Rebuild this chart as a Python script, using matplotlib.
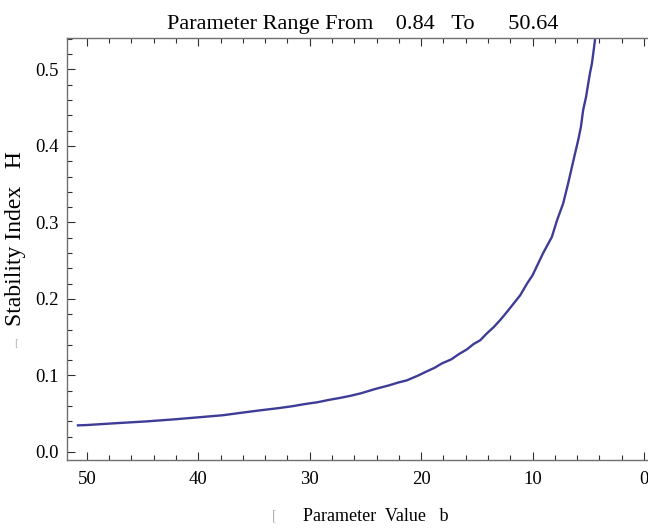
import numpy as np
import matplotlib.pyplot as plt
from matplotlib.ticker import MultipleLocator

# values (parameter b, stability index H)
b_vals = [50.9, 50.0, 47.5, 44.6, 42.1, 39.9, 37.8, 36.0, 34.4, 32.9, 31.6,
          30.4, 29.3, 28.3, 27.3, 26.4, 25.4, 24.1, 22.9, 22.0, 21.3, 20.3,
          19.6, 18.8, 18.1, 17.3, 16.6, 15.9, 15.3, 14.7, 14.1, 13.5, 12.9,
          12.3, 11.7, 11.1, 10.5, 10.0, 9.05, 8.27, 7.8, 7.25, 6.8, 6.46,
          6.19, 5.9, 5.66, 5.46, 5.2, 5.0, 4.85, 4.67, 4.49, 4.4, 4.3]
h_vals = [0.0347, 0.0352, 0.0375, 0.0400, 0.0427, 0.0454, 0.0480, 0.0515,
          0.0545, 0.0571, 0.0597, 0.0627, 0.0650, 0.0680, 0.0706, 0.0732,
          0.0767, 0.0824, 0.0870, 0.0910, 0.0935, 0.0997, 0.1046, 0.1100,
          0.1160, 0.1210, 0.1280, 0.1340, 0.1410, 0.1460, 0.1550, 0.1630,
          0.1725, 0.1830, 0.1940, 0.2050, 0.2200, 0.2310, 0.2600, 0.2810,
          0.3030, 0.3250, 0.3515, 0.3730, 0.3900, 0.4080, 0.4250, 0.4470,
          0.4640, 0.4820, 0.4950, 0.5080, 0.5280, 0.5385, 0.5550]

x_ticks = [50, 40, 30, 20, 10, 0]
y_ticks = [0.0, 0.1, 0.2, 0.3, 0.4, 0.5]

plt.rcParams['font.family'] = ['Liberation Serif', 'DejaVu Serif']

fig = plt.figure(figsize=(6.48, 5.28), dpi=100)
ax = fig.add_axes([0.103, 0.1288, 0.897, 0.7987])

ax.plot(b_vals, h_vals, color='#3d3d98', lw=1.7, solid_capstyle='butt')

ax.set_xlim(51.8, -0.36)
ax.set_ylim(-0.0105, 0.5408)
ax.set_xticks(x_ticks)
ax.set_yticks(y_ticks)
ax.set_yticklabels(['%.1f' % v for v in y_ticks])
ax.xaxis.set_minor_locator(MultipleLocator(2))
ax.yaxis.set_minor_locator(MultipleLocator(0.02))

for side in ['left', 'bottom', 'top']:
    ax.spines[side].set_color('#707070')
    ax.spines[side].set_linewidth(1.0)
ax.spines['right'].set_visible(False)

ax.tick_params(which='both', direction='in', top=True, right=False,
               color='#303030', width=0.8, labelsize=13.5)
ax.tick_params(which='major', length=5.5)
ax.tick_params(which='minor', length=3.5)
ax.tick_params(axis='x', pad=8)
ax.tick_params(axis='y', pad=6)

fig.text(0.2577, 0.946,
         'Parameter Range From    0.84   To      50.64',
         ha='left', va='baseline', fontsize=16)
fig.text(0.024, 0.548, 'Stability Index   H', rotation=90,
         ha='center', va='center', fontsize=17)
fig.text(0.025, 0.35, '[', color='#b0b0b0', fontsize=8, ha='center', va='center')
fig.text(0.467, 0.0227, 'Parameter  Value   b', ha='left', va='center', fontsize=13)
fig.text(0.423, 0.0227, '[', color='#b0b0b0', fontsize=10, ha='center', va='center')

fig.savefig('out.png', dpi=100)
